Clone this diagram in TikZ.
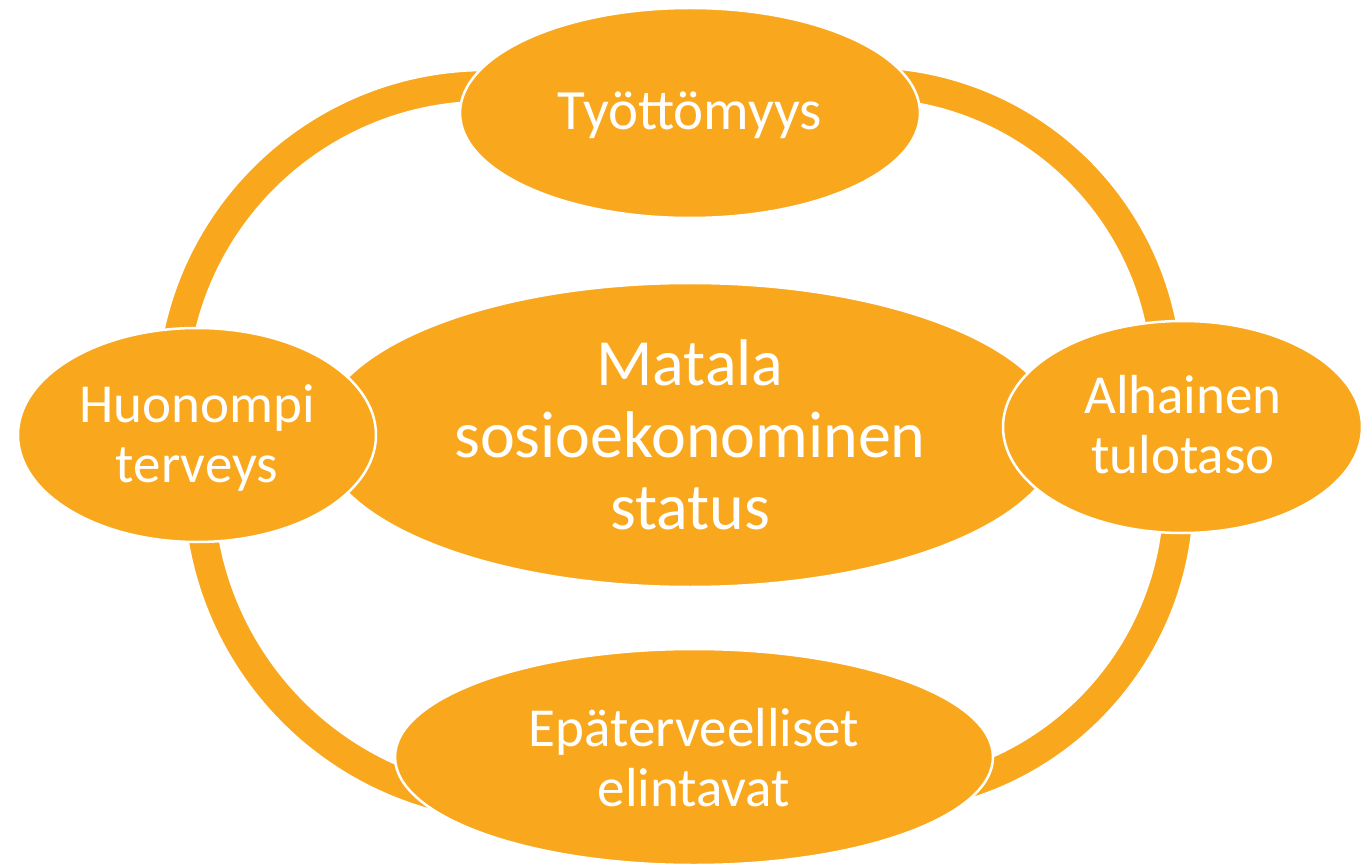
\documentclass[tikz,border=0pt]{standalone}
\usepackage{fontspec}
\setmainfont{Carlito}
\usetikzlibrary{shapes.geometric,calc}
\definecolor{orng}{HTML}{F9A81E}
\begin{document}
\begin{tikzpicture}[x=1pt,y=-1pt,
  band/.style={fill=orng,draw=white,line width=2.5pt},
  blob/.style={ellipse,fill=orng,draw=white,line width=2.5pt,inner sep=0pt,outer sep=0pt},
  lab/.style={text=white,anchor=base,font=\fontsize{55}{60}\selectfont,inner sep=0pt},
  biglab/.style={text=white,anchor=base,font=\fontsize{66}{72}\selectfont,inner sep=0pt}]
\useasboundingbox[fill=white] (0,0) rectangle (1365,866);

% arc centres
\coordinate (cTL) at (486,400);
\coordinate (cTR) at (866,384);
\coordinate (cBR) at (875,494);
\coordinate (cBL) at (520,485);

% block arcs
\draw[band] ($(cTL)+(175:330pt)$) arc[start angle=175,end angle=85,radius=330pt]
  -- ($(cTL)+(85:298pt)$) arc[start angle=85,end angle=175,radius=298pt] -- cycle;
\draw[band] ($(cTR)+(95:317pt)$) arc[start angle=95,end angle=0,radius=317pt]
  -- ($(cTR)+(0:285pt)$) arc[start angle=0,end angle=95,radius=285pt] -- cycle;
\draw[band] ($(cBR)+(0:319.5pt)$) arc[start angle=0,end angle=-80,radius=319.5pt]
  -- ($(cBR)+(-80:287.5pt)$) arc[start angle=-80,end angle=0,radius=287.5pt] -- cycle;
\draw[band] ($(cBL)+(180:337pt)$) arc[start angle=180,end angle=260,radius=337pt]
  -- ($(cBL)+(260:305pt)$) arc[start angle=260,end angle=180,radius=305pt] -- cycle;

% ellipses
\node[blob,minimum width=740pt,minimum height=304pt] (mid) at (690,435) {};
\node[blob,minimum width=460pt,minimum height=210pt] (top) at (690,113) {};
\node[blob,minimum width=598pt,minimum height=216pt] (bot) at (694,757) {};
\node[blob,minimum width=358pt,minimum height=214pt] (lft) at (197,435) {};
\node[blob,minimum width=359pt,minimum height=212pt] (rgt) at (1182.5,427) {};

% texts
\node[biglab] (m1) at (690,385) {Matala};
\node[biglab] (m2) at (690,457) {sosioekonominen};
\node[biglab] (m3) at (690,529) {status};
\node[lab,font=\fontsize{57}{60}\selectfont] (t1) at (690,130) {Työttömyys};
\node[lab] (l1) at (197,422) {Huonompi};
\node[lab] (l2) at (197,482) {terveys};
\node[lab] (r1) at (1183,413) {Alhainen};
\node[lab] (r2) at (1183,473) {tulotaso};
\node[lab] (b1) at (694,746) {Epäterveelliset};
\node[lab] (b2) at (694,806) {elintavat};
\end{tikzpicture}
\end{document}
